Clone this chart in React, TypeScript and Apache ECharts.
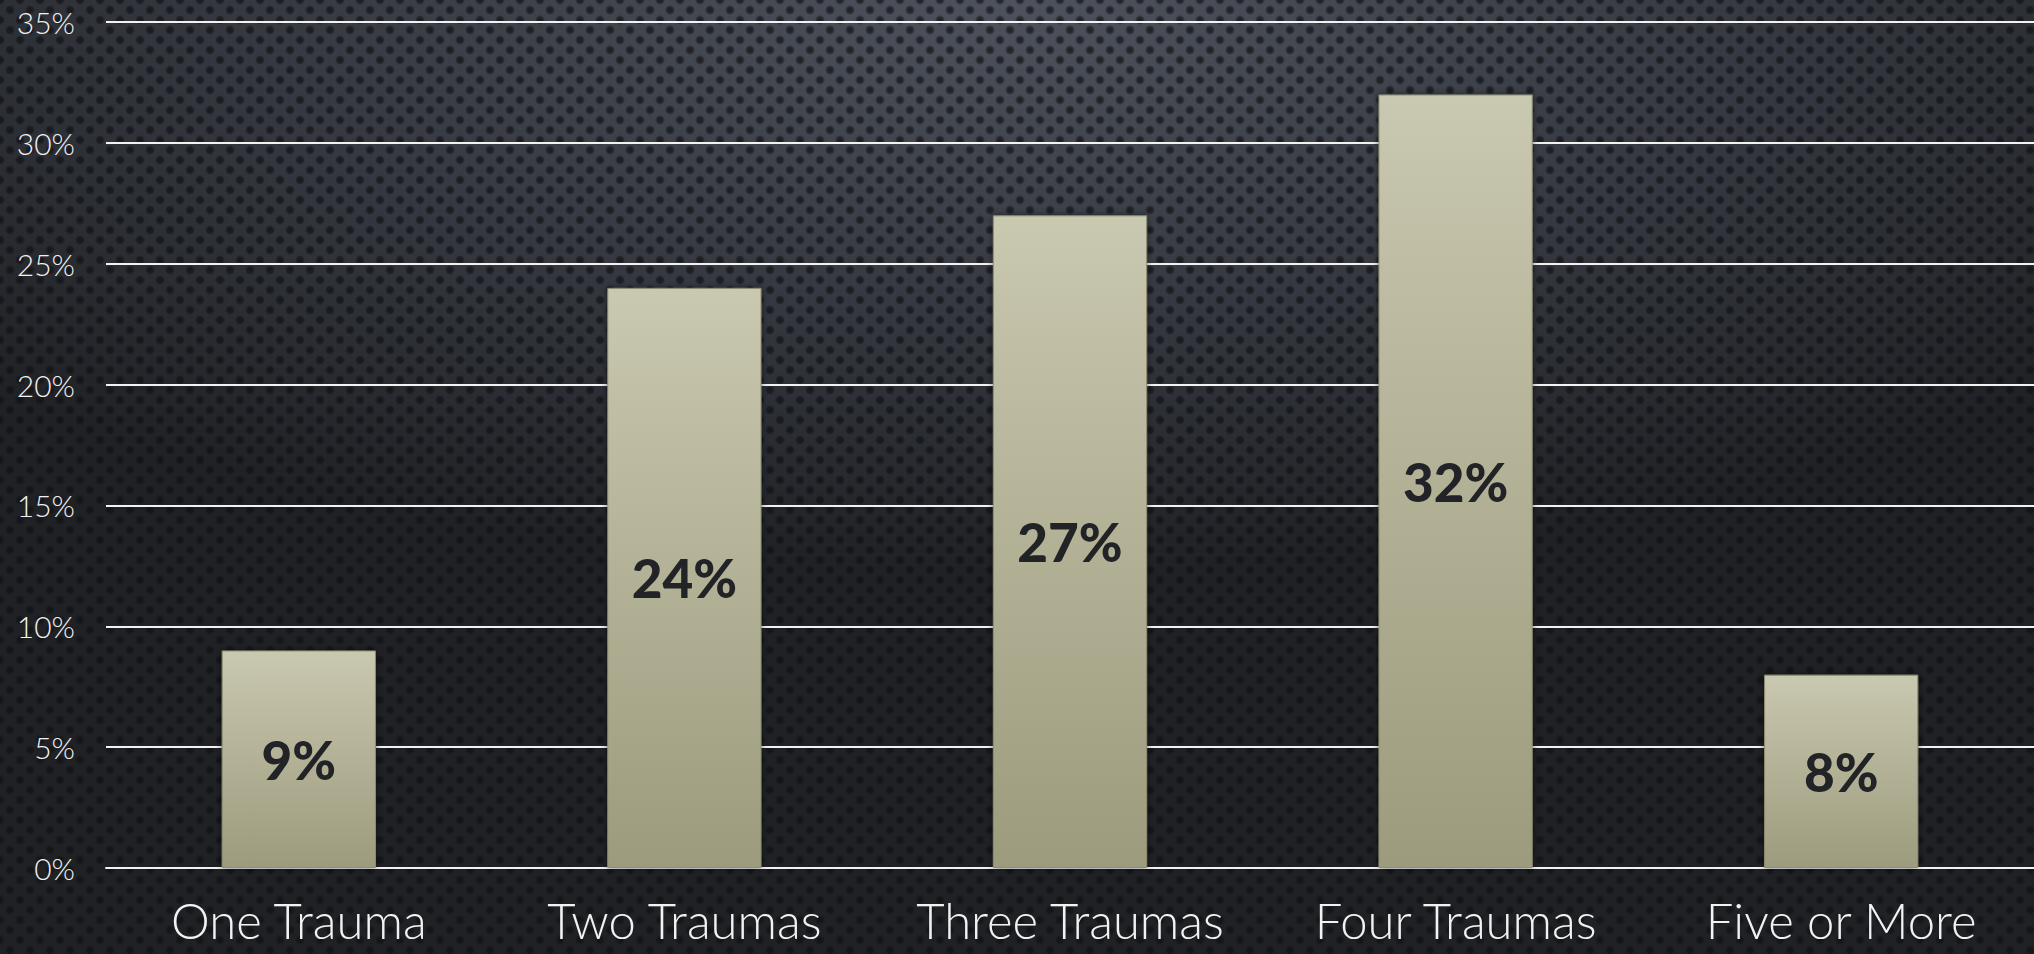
import React, { useEffect, useRef } from "react";
import * as echarts from "echarts";

const categories = ["One Trauma", "Two Traumas", "Three Traumas", "Four Traumas", "Five or More"];
const values = [9, 24, 27, 32, 8];
const yMin = 0;
const yMax = 35;
const yStep = 5;

export default function App() {
  const ref = useRef<HTMLDivElement>(null);
  useEffect(() => {
    if (!ref.current) return;
    const chart = echarts.init(ref.current, null, { renderer: "svg" });
    chart.setOption({
      animation: false,
      backgroundColor: "transparent",
      grid: { left: 106, right: 0, top: 22, bottom: 86, containLabel: false },
      xAxis: {
        type: "category",
        data: categories,
        axisLine: { show: true, lineStyle: { color: "#f2f2f2", width: 2 } },
        axisTick: { show: false },
        axisLabel: {
          interval: 0,
          color: "#f2f2f2",
          fontFamily: "Lato",
          fontWeight: 300,
          fontSize: 49,
          lineHeight: 50,
          margin: 27,
        },
      },
      yAxis: {
        type: "value",
        min: yMin,
        max: yMax,
        interval: yStep,
        axisLine: { show: false },
        axisTick: { show: false },
        splitLine: { lineStyle: { color: "#f2f2f2", width: 2 } },
        axisLabel: {
          formatter: "{value}%",
          color: "#f0f0f0",
          fontFamily: "Lato",
          fontWeight: 300,
          fontSize: 30,
          margin: 31,
        },
      },
      series: [
        {
          type: "bar",
          data: values,
          barWidth: "40%",
          itemStyle: {
            color: new echarts.graphic.LinearGradient(0, 0, 0, 1, [
              { offset: 0, color: "#c9c8b0" },
              { offset: 1, color: "#9c9b7d" },
            ]),
            borderColor: "#8f8e72",
            borderWidth: 1,
            shadowColor: "rgba(0,0,0,0.5)",
            shadowBlur: 6,
            shadowOffsetX: 0,
            shadowOffsetY: 0,
          },
          label: {
            show: true,
            position: "inside",
            formatter: "{c}%",
            color: "#222326",
            fontFamily: "Lato",
            fontWeight: 900,
            fontSize: 53,
          },
        },
      ],
    });
    return () => chart.dispose();
  }, []);

  const bg: React.CSSProperties = {
    position: "fixed",
    left: 0,
    top: 0,
    width: 2034,
    height: 954,
    backgroundColor: "#2a2d33",
    backgroundImage:
      "radial-gradient(circle, rgba(14,15,18,0.75) 0px, rgba(14,15,18,0.55) 3px, rgba(14,15,18,0) 5px)," +
      "radial-gradient(circle, rgba(14,15,18,0.75) 0px, rgba(14,15,18,0.55) 3px, rgba(14,15,18,0) 5px)," +
      "radial-gradient(ellipse 70% 60% at 50% 0%, #4d525c 0%, #353840 55%, #1f2125 100%)",
    backgroundSize: "20px 20px, 20px 20px, 100% 100%",
    backgroundPosition: "0 0, 10px 10px, 0 0",
  };

  return (
    <div style={bg}>
      <div ref={ref} style={{ width: 2034, height: 954 }} />
    </div>
  );
}
